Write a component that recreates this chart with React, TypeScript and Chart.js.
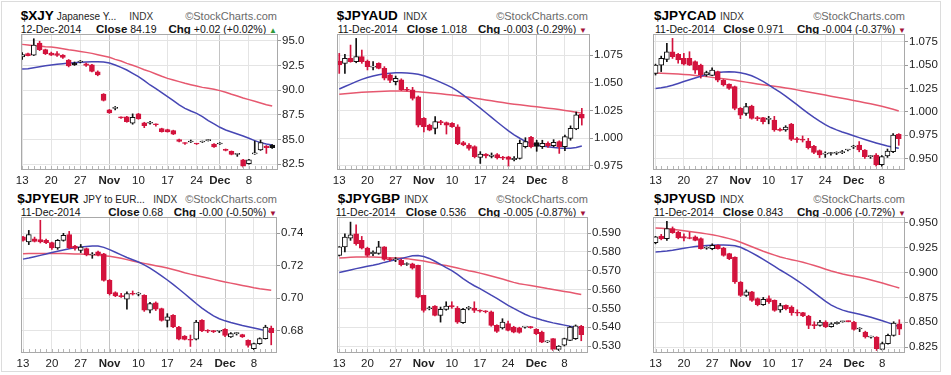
import React, { useEffect, useRef } from "react";
import { Chart, registerables } from "chart.js";

Chart.register(...registerables);

const FONT = '"Liberation Sans", Arial, Helvetica, sans-serif';
Chart.defaults.font.family = FONT;

const RED = "#d3133d";
const INK = "#111111";
const MA_BLUE = "#4646b4";
const MA_RED = "#e6586f";

// ---------- tick labels ----------
const xTickLabels = ["13", "20", "27", "Nov", "10", "17", "24", "Dec", "8"];
const xjyTickIdx = [0, 5, 10, 15, 20, 25, 30, 34, 39];
const jpyTickIdx = [0, 5, 10, 15, 20, 25, 30, 35, 40];

const xjyYTicks = [95.0, 92.5, 90.0, 87.5, 85.0, 82.5];
const audYTicks = [1.075, 1.05, 1.025, 1.0, 0.975];
const cadYTicks = [1.075, 1.05, 1.025, 1.0, 0.975, 0.95];
const eurYTicks = [0.74, 0.72, 0.7, 0.68];
const gbpYTicks = [0.59, 0.58, 0.57, 0.56, 0.55, 0.54, 0.53];
const usdYTicks = [0.95, 0.925, 0.9, 0.875, 0.85, 0.825];

// ---------- $XJY  [open, high, low, close] ----------
const xjyOhlc = [
  [93.35, 93.8, 93.1, 93.6], [93.7, 93.75, 93.45, 93.5], [93.55, 95.2, 93.5, 94.55], [94.75, 94.95, 94.0, 94.1],
  [94.1, 94.15, 93.6, 93.7], [93.75, 93.85, 93.5, 93.55], [93.7, 93.9, 93.4, 93.52], [93.55, 93.6, 93.2, 93.3],
  [93.05, 93.1, 92.35, 92.45], [92.75, 92.85, 92.5, 92.55], [92.85, 93.0, 92.75, 92.9], [92.65, 92.75, 92.4, 92.5],
  [92.55, 92.6, 91.85, 91.9], [91.85, 91.95, 91.45, 91.55], [89.6, 89.65, 88.9, 88.95], [88.0, 88.05, 87.65, 87.7],
  [88.15, 88.35, 88.0, 88.2], [87.25, 87.3, 87.15, 87.2], [87.3, 87.35, 86.75, 86.8], [86.65, 87.6, 86.55, 87.25],
  [87.6, 87.65, 87.05, 87.1], [86.7, 86.75, 86.2, 86.4], [86.65, 86.85, 86.55, 86.7], [86.55, 86.6, 86.35, 86.5],
  [86.1, 86.15, 85.75, 85.8], [86.0, 86.05, 85.75, 85.78], [85.9, 85.95, 85.5, 85.55], [85.0, 85.05, 84.75, 84.8],
  [84.65, 84.7, 84.5, 84.6], [84.75, 84.95, 84.7, 84.85], [84.58, 84.62, 84.5, 84.55], [84.75, 84.85, 84.7, 84.8],
  [84.9, 85.0, 84.85, 84.95], [84.55, 84.6, 84.2, 84.25], [84.55, 84.7, 84.5, 84.6], [83.95, 84.05, 83.85, 83.9],
  [83.8, 83.85, 83.45, 83.5], [83.5, 83.6, 83.3, 83.55], [82.95, 83.0, 82.2, 82.3], [82.55, 83.0, 82.5, 82.95],
  [83.55, 84.85, 83.5, 83.6], [83.95, 84.95, 83.9, 84.7], [84.35, 84.4, 83.6, 84.17], [84.45, 84.5, 84.1, 84.19],
];
const xjyMaBlue = [
  92.14, 92.17, 92.27, 92.37, 92.47, 92.54, 92.61, 92.68, 92.74, 92.78,
  92.81, 92.84, 92.88, 92.88, 92.84, 92.74, 92.54, 92.3, 92.04, 91.7,
  91.36, 90.96, 90.52, 90.15, 89.74, 89.34, 88.94, 88.5, 88.16, 87.89,
  87.65, 87.32, 86.91, 86.58, 86.24, 85.97, 85.77, 85.57, 85.36, 85.13,
  84.89, 84.69, 84.55, 84.45,
];
const xjyMaRed = [
  94.63, 94.56, 94.49, 94.46, 94.39, 94.36, 94.29, 94.19, 94.09, 94.02,
  93.92, 93.82, 93.72, 93.58, 93.45, 93.32, 93.11, 92.94, 92.71, 92.51,
  92.3, 92.07, 91.87, 91.63, 91.4, 91.19, 91.02, 90.86, 90.69, 90.55,
  90.42, 90.28, 90.18, 90.08, 89.95, 89.78, 89.58, 89.41, 89.2, 89.04,
  88.87, 88.7, 88.53, 88.4,
];

// ---------- $JPYAUD ----------
const audOhlc = [
  [1.0696, 1.0765, 1.0584, 1.066], [1.0675, 1.0756, 1.0584, 1.072], [1.072, 1.084, 1.0685, 1.069], [1.069, 1.09, 1.068, 1.0735],
  [1.0735, 1.0795, 1.0675, 1.069], [1.0696, 1.0705, 1.0615, 1.0645], [1.064, 1.069, 1.0615, 1.0648], [1.0675, 1.068, 1.0625, 1.063],
  [1.063, 1.0645, 1.0525, 1.054], [1.057, 1.058, 1.05, 1.052], [1.051, 1.056, 1.048, 1.054], [1.0525, 1.0535, 1.043, 1.0435],
  [1.044, 1.0458, 1.0425, 1.0432], [1.0435, 1.0458, 1.0343, 1.0358], [1.0373, 1.038, 1.01, 1.0117], [1.0178, 1.0185, 1.0055, 1.0102],
  [1.0117, 1.0125, 1.0065, 1.0072], [1.0087, 1.0193, 1.0036, 1.0148], [1.0145, 1.016, 1.012, 1.0139], [1.0139, 1.0145, 1.0036, 1.0117],
  [1.0132, 1.014, 1.0095, 1.0102], [1.0102, 1.012, 0.994, 0.995], [0.9958, 0.997, 0.993, 0.9937], [0.9937, 0.995, 0.989, 0.9907],
  [0.9922, 0.993, 0.982, 0.9831], [0.9825, 0.9877, 0.977, 0.9855], [0.9855, 0.986, 0.982, 0.9838], [0.9834, 0.9865, 0.982, 0.9846],
  [0.985, 0.986, 0.981, 0.982], [0.9822, 0.9835, 0.9805, 0.9818], [0.9831, 0.9835, 0.9741, 0.9807], [0.9804, 0.9833, 0.9793, 0.9816],
  [0.9816, 0.9982, 0.981, 0.9952], [0.9922, 1.0003, 0.991, 0.9967], [1.0006, 1.0015, 0.991, 0.9922], [0.9958, 0.998, 0.988, 0.9925],
  [0.9922, 0.998, 0.9905, 0.9952], [0.9952, 0.9965, 0.9915, 0.993], [0.993, 0.9985, 0.992, 0.996], [0.9967, 0.9975, 0.9861, 0.9922],
  [0.9922, 1.0027, 0.9886, 1.0012], [0.9997, 1.011, 0.998, 1.0087], [1.0083, 1.0235, 1.0075, 1.021], [1.0215, 1.0268, 1.0117, 1.018],
];
const audMaBlue = [
  1.0443, 1.0465, 1.0487, 1.051, 1.053, 1.0547, 1.056, 1.0572, 1.058, 1.0586,
  1.0589, 1.0589, 1.0587, 1.0583, 1.0576, 1.0563, 1.0545, 1.0525, 1.0503, 1.048,
  1.0455, 1.0423, 1.0388, 1.035, 1.031, 1.027, 1.0228, 1.0186, 1.0145, 1.0104,
  1.0064, 1.0028, 0.9998, 0.997, 0.995, 0.9937, 0.9928, 0.9921, 0.9915, 0.991,
  0.9907, 0.9908, 0.9915, 0.9928,
];
const audMaRed = [
  1.0395, 1.04, 1.0405, 1.0409, 1.0413, 1.0416, 1.0419, 1.0421, 1.0423, 1.0424,
  1.0425, 1.0424, 1.0423, 1.0421, 1.0418, 1.0414, 1.041, 1.0405, 1.04, 1.0394,
  1.0388, 1.0382, 1.0375, 1.0368, 1.036, 1.0352, 1.0344, 1.0336, 1.0328, 1.032,
  1.0313, 1.0306, 1.03, 1.0294, 1.0288, 1.0282, 1.0276, 1.027, 1.0264, 1.0257,
  1.0249, 1.0241, 1.0233, 1.0225,
];

// ---------- $JPYCAD ----------
const cadOhlc = [
  [1.041, 1.051, 1.0393, 1.05], [1.05, 1.0596, 1.043, 1.0571], [1.0561, 1.0732, 1.0536, 1.0643], [1.0643, 1.0786, 1.0571, 1.059],
  [1.0614, 1.0625, 1.052, 1.0554], [1.0571, 1.0625, 1.05, 1.051], [1.0571, 1.0643, 1.0495, 1.05], [1.0536, 1.0545, 1.0411, 1.0446],
  [1.05, 1.051, 1.036, 1.0393], [1.0395, 1.0435, 1.038, 1.042], [1.039, 1.047, 1.0385, 1.0446], [1.0429, 1.0435, 1.032, 1.0339],
  [1.0339, 1.0345, 1.0275, 1.0286], [1.0296, 1.03, 1.024, 1.025], [1.0268, 1.0275, 1.002, 1.0036], [1.0036, 1.0045, 0.9925, 0.9964],
  [0.9982, 1.0089, 0.996, 1.0054], [1.0061, 1.007, 0.992, 0.9929], [0.9935, 0.995, 0.9905, 0.9926], [0.9936, 0.994, 0.987, 0.9893],
  [0.9918, 0.995, 0.987, 0.9925], [0.9911, 0.995, 0.979, 0.9804], [0.981, 0.9825, 0.979, 0.98], [0.9804, 0.985, 0.979, 0.9836],
  [0.9868, 0.9875, 0.969, 0.9704], [0.971, 0.9725, 0.967, 0.97], [0.9704, 0.974, 0.9675, 0.9696], [0.9686, 0.9714, 0.96, 0.9614],
  [0.9629, 0.964, 0.955, 0.9564], [0.9582, 0.959, 0.9508, 0.9536], [0.9545, 0.957, 0.951, 0.955], [0.9552, 0.9565, 0.9535, 0.9556],
  [0.9555, 0.957, 0.954, 0.956], [0.9562, 0.9585, 0.955, 0.9568], [0.9589, 0.9595, 0.958, 0.959], [0.9622, 0.964, 0.9605, 0.9625],
  [0.9643, 0.968, 0.957, 0.9589], [0.9589, 0.9595, 0.95, 0.9518], [0.9518, 0.953, 0.95, 0.9521], [0.9536, 0.955, 0.9415, 0.9429],
  [0.9432, 0.953, 0.9415, 0.9518], [0.9525, 0.96, 0.951, 0.9579], [0.9571, 0.9765, 0.956, 0.975], [0.9757, 0.9765, 0.964, 0.971],
];
const cadMaBlue = [
  1.025, 1.0256, 1.0268, 1.0284, 1.0303, 1.0323, 1.0343, 1.0362, 1.038, 1.0398,
  1.0412, 1.0421, 1.0426, 1.0428, 1.0426, 1.0418, 1.0405, 1.0385, 1.0358, 1.0325,
  1.0288, 1.0248, 1.021, 1.0168, 1.0122, 1.0075, 1.0028, 0.9983, 0.994, 0.99,
  0.9862, 0.983, 0.9805, 0.9783, 0.9763, 0.9743, 0.9722, 0.9702, 0.9683, 0.9665,
  0.9648, 0.9632, 0.9618, 0.9607,
];
const cadMaRed = [
  1.0416, 1.0413, 1.041, 1.0407, 1.0403, 1.0399, 1.0395, 1.0389, 1.0383, 1.0376,
  1.0368, 1.036, 1.0352, 1.0344, 1.0336, 1.0327, 1.0317, 1.0307, 1.0298, 1.0289,
  1.028, 1.0272, 1.0264, 1.0255, 1.0245, 1.0234, 1.0223, 1.0212, 1.0201, 1.019,
  1.0178, 1.0166, 1.0155, 1.0144, 1.0133, 1.0121, 1.0109, 1.0097, 1.0085, 1.0072,
  1.0058, 1.0043, 1.0026, 1.0008,
];

// ---------- $JPYEUR ----------
const eurOhlc = [
  [0.7376, 0.738, 0.735, 0.7355], [0.7345, 0.7416, 0.7329, 0.739], [0.7365, 0.7375, 0.7345, 0.7349], [0.7359, 0.7478, 0.7339, 0.7345],
  [0.7355, 0.7362, 0.7335, 0.7341], [0.7341, 0.7345, 0.73, 0.7308], [0.7308, 0.736, 0.73, 0.7355], [0.7355, 0.7398, 0.735, 0.7386],
  [0.739, 0.741, 0.7305, 0.7308], [0.732, 0.7325, 0.7295, 0.7305], [0.7294, 0.733, 0.728, 0.7314], [0.7304, 0.7308, 0.726, 0.7267],
  [0.7265, 0.728, 0.7245, 0.7269], [0.7284, 0.729, 0.726, 0.7267], [0.7273, 0.7275, 0.7105, 0.711], [0.711, 0.7115, 0.702, 0.7029],
  [0.7035, 0.704, 0.701, 0.7014], [0.7014, 0.703, 0.7005, 0.701], [0.6994, 0.7039, 0.6933, 0.7029], [0.7029, 0.7045, 0.702, 0.7025],
  [0.7026, 0.7035, 0.7015, 0.7027], [0.7018, 0.7022, 0.692, 0.6927], [0.6927, 0.6975, 0.691, 0.6967], [0.6973, 0.6978, 0.6925, 0.6933],
  [0.6937, 0.694, 0.686, 0.6865], [0.6865, 0.6906, 0.6824, 0.6886], [0.6896, 0.69, 0.682, 0.6824], [0.6824, 0.6828, 0.6745, 0.6749],
  [0.6769, 0.6772, 0.6745, 0.6748], [0.6748, 0.6775, 0.6705, 0.6743], [0.6749, 0.6865, 0.6745, 0.6855], [0.6865, 0.687, 0.6795, 0.68],
  [0.6802, 0.6808, 0.679, 0.6798], [0.6798, 0.6803, 0.679, 0.6796], [0.6798, 0.6803, 0.679, 0.68], [0.681, 0.6815, 0.6765, 0.6773],
  [0.6763, 0.679, 0.676, 0.6784], [0.6784, 0.679, 0.6775, 0.6786], [0.6778, 0.678, 0.676, 0.6763], [0.6743, 0.6745, 0.67, 0.6712],
  [0.6692, 0.6725, 0.6685, 0.6722], [0.6722, 0.6758, 0.6718, 0.6753], [0.6753, 0.6835, 0.675, 0.6824], [0.6818, 0.683, 0.6715, 0.679],
];
const eurMaBlue = [
  0.724, 0.7247, 0.7255, 0.7263, 0.7271, 0.728, 0.7288, 0.7296, 0.7304, 0.731,
  0.7315, 0.7318, 0.732, 0.732, 0.7312, 0.7298, 0.7282, 0.7266, 0.725, 0.7236,
  0.7222, 0.7205, 0.7185, 0.7162, 0.7138, 0.7112, 0.7085, 0.7057, 0.7028, 0.6998,
  0.6968, 0.694, 0.6915, 0.6892, 0.6875, 0.6862, 0.6852, 0.6843, 0.6834, 0.6826,
  0.6818, 0.681, 0.6802, 0.6795,
];
const eurMaRed = [
  0.7273, 0.7274, 0.7274, 0.7275, 0.7275, 0.7275, 0.7275, 0.7274, 0.7273, 0.7272,
  0.7271, 0.7269, 0.7267, 0.7264, 0.7261, 0.7258, 0.7252, 0.7245, 0.7237, 0.7229,
  0.7221, 0.7214, 0.7207, 0.72, 0.7193, 0.7186, 0.7177, 0.7167, 0.7157, 0.7148,
  0.714, 0.7132, 0.7124, 0.7116, 0.7108, 0.71, 0.7093, 0.7086, 0.7079, 0.7072,
  0.7065, 0.7059, 0.7054, 0.7049,
];

// ---------- $JPYGBP ----------
const gbpOhlc = [
  [0.5781, 0.5828, 0.5778, 0.5826], [0.5826, 0.5896, 0.58, 0.5879], [0.5873, 0.5958, 0.5861, 0.5891], [0.5896, 0.5944, 0.5835, 0.5843],
  [0.5861, 0.5882, 0.5815, 0.582], [0.582, 0.5825, 0.5775, 0.5781], [0.579, 0.5805, 0.578, 0.5798], [0.5791, 0.5856, 0.5787, 0.5826],
  [0.5826, 0.5828, 0.5755, 0.576], [0.5764, 0.5768, 0.5752, 0.5758], [0.5758, 0.577, 0.5748, 0.5762], [0.5755, 0.576, 0.5725, 0.5732],
  [0.5733, 0.5742, 0.5728, 0.5736], [0.5737, 0.574, 0.5708, 0.5714], [0.5728, 0.573, 0.5555, 0.556], [0.5569, 0.557, 0.548, 0.5489],
  [0.5498, 0.551, 0.5492, 0.5502], [0.5512, 0.5515, 0.546, 0.5463], [0.5463, 0.5507, 0.5427, 0.5495], [0.5495, 0.5535, 0.549, 0.5512],
  [0.5515, 0.5535, 0.55, 0.5508], [0.5502, 0.551, 0.542, 0.5427], [0.5424, 0.55, 0.542, 0.5495], [0.55, 0.551, 0.5492, 0.5502],
  [0.5502, 0.5535, 0.5478, 0.5489], [0.5487, 0.5492, 0.548, 0.5485], [0.5484, 0.5488, 0.5476, 0.5482], [0.5481, 0.5486, 0.5405, 0.541],
  [0.541, 0.5413, 0.5372, 0.5378], [0.5396, 0.5445, 0.539, 0.5427], [0.5419, 0.5432, 0.538, 0.5383], [0.5401, 0.5405, 0.537, 0.5374],
  [0.5396, 0.54, 0.5368, 0.5372], [0.54, 0.5405, 0.5395, 0.5401], [0.54, 0.5404, 0.5394, 0.5398], [0.5389, 0.5392, 0.536, 0.5365],
  [0.5374, 0.538, 0.5318, 0.5321], [0.5322, 0.5328, 0.5318, 0.5325], [0.5339, 0.534, 0.5275, 0.5282], [0.5282, 0.5302, 0.5276, 0.53],
  [0.5304, 0.5342, 0.53, 0.5339], [0.533, 0.5404, 0.5328, 0.5401], [0.5339, 0.5412, 0.5335, 0.5407], [0.5405, 0.541, 0.5328, 0.536],
];
const gbpMaBlue = [
  0.569, 0.5697, 0.5704, 0.5711, 0.5717, 0.5723, 0.5729, 0.5736, 0.5744, 0.5751,
  0.5758, 0.5765, 0.5772, 0.5779, 0.5781, 0.5775, 0.5765, 0.575, 0.5733, 0.5716,
  0.57, 0.568, 0.5658, 0.5638, 0.562, 0.5605, 0.5588, 0.557, 0.5553, 0.5535,
  0.5516, 0.55, 0.5484, 0.5469, 0.5456, 0.5447, 0.5438, 0.543, 0.5423, 0.5417,
  0.5411, 0.5405, 0.54, 0.5396,
];
const gbpMaRed = [
  0.5767, 0.5769, 0.5771, 0.5772, 0.5773, 0.5773, 0.5772, 0.5771, 0.577, 0.5769,
  0.5768, 0.5767, 0.5764, 0.576, 0.5756, 0.5751, 0.5745, 0.5739, 0.5732, 0.5727,
  0.5721, 0.5714, 0.5707, 0.57, 0.5694, 0.5687, 0.568, 0.5672, 0.5664, 0.5656,
  0.5647, 0.5638, 0.5631, 0.5626, 0.5621, 0.5616, 0.5611, 0.5605, 0.56, 0.5595,
  0.559, 0.5585, 0.5579, 0.5573,
];

// ---------- $JPYUSD ----------
const usdOhlc = [
  [0.9302, 0.9365, 0.929, 0.9359], [0.9369, 0.9385, 0.933, 0.9342], [0.9342, 0.9517, 0.9325, 0.9443], [0.9443, 0.946, 0.9395, 0.9403],
  [0.9409, 0.9415, 0.934, 0.9349], [0.9362, 0.939, 0.932, 0.9346], [0.935, 0.9405, 0.934, 0.9343], [0.9359, 0.937, 0.932, 0.9325],
  [0.9342, 0.935, 0.9235, 0.9241], [0.9245, 0.926, 0.9235, 0.9248], [0.9241, 0.929, 0.923, 0.9275], [0.9275, 0.928, 0.9235, 0.9241],
  [0.9248, 0.9255, 0.9165, 0.9174], [0.9191, 0.9195, 0.913, 0.914], [0.9157, 0.916, 0.889, 0.8905], [0.8905, 0.891, 0.876, 0.8771],
  [0.8771, 0.8825, 0.876, 0.8805], [0.8805, 0.881, 0.871, 0.872], [0.8737, 0.8745, 0.8665, 0.8677], [0.8677, 0.875, 0.867, 0.873],
  [0.8737, 0.8765, 0.869, 0.8704], [0.872, 0.8725, 0.861, 0.862], [0.8623, 0.869, 0.86, 0.8667], [0.867, 0.8675, 0.8625, 0.8636],
  [0.8653, 0.8665, 0.857, 0.8596], [0.8595, 0.8625, 0.8565, 0.859], [0.8596, 0.86, 0.8555, 0.8563], [0.8563, 0.857, 0.8435, 0.8468],
  [0.847, 0.8505, 0.8435, 0.8465], [0.8468, 0.852, 0.846, 0.8502], [0.8502, 0.8515, 0.8445, 0.8452], [0.8455, 0.8495, 0.845, 0.8485],
  [0.8485, 0.8505, 0.848, 0.85], [0.8505, 0.851, 0.85, 0.8509], [0.8508, 0.8512, 0.8504, 0.8506], [0.8502, 0.851, 0.842, 0.8428],
  [0.8432, 0.8445, 0.8405, 0.8435], [0.8401, 0.841, 0.834, 0.8351], [0.835, 0.836, 0.834, 0.8352], [0.8351, 0.8355, 0.8215, 0.8233],
  [0.8227, 0.83, 0.822, 0.8284], [0.8284, 0.838, 0.828, 0.8368], [0.8368, 0.8505, 0.836, 0.8491], [0.8485, 0.8525, 0.8375, 0.843],
];
const usdMaBlue = [
  0.9208, 0.9212, 0.9218, 0.9226, 0.9236, 0.9245, 0.9254, 0.9262, 0.9268, 0.9272,
  0.9275, 0.9277, 0.9277, 0.9276, 0.927, 0.9255, 0.9228, 0.9198, 0.9167, 0.9133,
  0.9098, 0.9062, 0.9026, 0.8992, 0.8958, 0.892, 0.888, 0.8838, 0.8795, 0.8752,
  0.871, 0.8673, 0.8645, 0.8622, 0.8605, 0.8592, 0.858, 0.8566, 0.855, 0.8532,
  0.8515, 0.8496, 0.8476, 0.8455,
];
const usdMaRed = [
  0.945, 0.9446, 0.9441, 0.9436, 0.943, 0.9422, 0.9414, 0.9406, 0.9398, 0.939,
  0.9381, 0.937, 0.9357, 0.9342, 0.9326, 0.9306, 0.9283, 0.926, 0.9237, 0.9215,
  0.9195, 0.9176, 0.9158, 0.9143, 0.913, 0.9118, 0.9104, 0.9088, 0.9071, 0.9053,
  0.9034, 0.9016, 0.9, 0.8986, 0.8974, 0.8963, 0.8952, 0.894, 0.8926, 0.8911,
  0.8895, 0.8878, 0.8861, 0.8845,
];

// ---------- panel layout ----------
const PANELS: any[] = [
  {
    ohlc: xjyOhlc, blue: xjyMaBlue, red: xjyMaRed, yTicks: xjyYTicks, dec: 1, yMin: 81.92, yMax: 95.68,
    xTicks: xjyTickIdx, xMin: -0.2, xMax: 44.0, plot: [21, 34, 278, 170],
    sym: "$XJY", symX: 20.7, desc: "Japanese Y...", descX: 56.7, indxX: 129.3, scR: 277,
    date: "12-Dec-2014", dateX: 20.7, close: "84.19", closeX: 96, chg: "+0.02 (+0.02%)", chgR: 277, up: true, oy: 0,
  },
  {
    ohlc: audOhlc, blue: audMaBlue, red: audMaRed, yTicks: audYTicks, dec: 3, yMin: 0.9711, yMax: 1.094,
    xTicks: jpyTickIdx, xMin: -0.4, xMax: 44.45, plot: [337, 34, 590, 170],
    sym: "$JPYAUD", symX: 336.7, desc: "", descX: 0, indxX: 403.3, scR: 588,
    date: "11-Dec-2014", dateX: 337.7, close: "1.018", closeX: 406.7, chg: "-0.003 (-0.29%)", chgR: 587, up: false, oy: 0,
  },
  {
    ohlc: cadOhlc, blue: cadMaBlue, red: cadMaRed, yTicks: cadYTicks, dec: 3, yMin: 0.9375, yMax: 1.0833,
    xTicks: jpyTickIdx, xMin: -0.45, xMax: 44.1, plot: [653, 34, 905, 170],
    sym: "$JPYCAD", symX: 654, desc: "", descX: 0, indxX: 720, scR: 905,
    date: "11-Dec-2014", dateX: 655, close: "0.971", closeX: 723.3, chg: "-0.004 (-0.37%)", chgR: 906, up: false, oy: 0,
  },
  {
    ohlc: eurOhlc, blue: eurMaBlue, red: eurMaRed, yTicks: eurYTicks, dec: 2, yMin: 0.6665, yMax: 0.7498,
    xTicks: jpyTickIdx, xMin: -0.35, xMax: 44.0, plot: [21, 217, 277, 353],
    sym: "$JPYEUR", symX: 17.3, desc: "JPY to EUR...", descX: 83.3, indxX: 153.3, scR: 277,
    date: "11-Dec-2014", dateX: 20.7, close: "0.68", closeX: 108.3, chg: "-0.00 (-0.50%)", chgR: 277, up: false, oy: 183,
  },
  {
    ohlc: gbpOhlc, blue: gbpMaBlue, red: gbpMaRed, yTicks: gbpYTicks, dec: 3, yMin: 0.5263, yMax: 0.5985,
    xTicks: jpyTickIdx, xMin: -0.4, xMax: 44.2, plot: [337, 217, 588, 353],
    sym: "$JPYGBP", symX: 337.7, desc: "", descX: 0, indxX: 404.3, scR: 588,
    date: "11-Dec-2014", dateX: 335.7, close: "0.536", closeX: 405.7, chg: "-0.005 (-0.87%)", chgR: 587, up: false, oy: 183,
  },
  {
    ohlc: usdOhlc, blue: usdMaBlue, red: usdMaRed, yTicks: usdYTicks, dec: 3, yMin: 0.819, yMax: 0.956,
    xTicks: jpyTickIdx, xMin: -0.45, xMax: 44.0, plot: [653, 217, 905, 353],
    sym: "$JPYUSD", symX: 654, desc: "", descX: 0, indxX: 720, scR: 905,
    date: "11-Dec-2014", dateX: 654, close: "0.843", closeX: 722.7, chg: "-0.006 (-0.72%)", chgR: 906, up: false, oy: 183,
  },
];

const PAD_L = 10;
const PAD_T = 1;
const Y_W = 36;
const X_H = 18;

function candleStyles(ohlc: number[][]) {
  return ohlc.map((d, i) => {
    const o = d[0];
    const c = d[3];
    const prev = i > 0 ? ohlc[i - 1][3] : o;
    const col = c >= prev ? INK : RED;
    return { col, fill: c > o ? "#ffffff" : col };
  });
}

const framePlugin = {
  id: "frame",
  afterDatasetsDraw(chart: any) {
    const { ctx, chartArea: a, scales } = chart;
    ctx.save();
    ctx.strokeStyle = "#a9a9a9";
    ctx.lineWidth = 1;
    ctx.strokeRect(a.left + 0.5, a.top + 0.5, a.right - a.left - 1, a.bottom - a.top - 1);
    const n = chart.data.datasets[0].data.length;
    ctx.strokeStyle = "#b5b5b5";
    ctx.beginPath();
    for (let i = 0; i < n; i++) {
      const px = Math.round(scales.x.getPixelForValue(i)) + 0.5;
      ctx.moveTo(px, a.bottom - 1);
      ctx.lineTo(px, a.bottom - 4);
    }
    ctx.stroke();
    ctx.restore();
  },
};

function Txt(props: any) {
  const { x, y, s, right, children, style } = props;
  const st: any = {
    position: "absolute",
    top: y - 0.8465 * s,
    fontSize: s,
    lineHeight: `${s}px`,
    whiteSpace: "nowrap",
    ...(style || {}),
  };
  if (right) st.right = 951 - x;
  else st.left = x;
  return <div style={st}>{children}</div>;
}

function Panel({ p }: { p: any }) {
  const ref = useRef<HTMLCanvasElement>(null);
  const [L, T, R, B] = p.plot;
  const cw = R - L + PAD_L + Y_W;
  const ch = B - T + PAD_T + X_H;

  useEffect(() => {
    const st = candleStyles(p.ohlc);
    const chart = new Chart(ref.current as HTMLCanvasElement, {
      type: "bar",
      data: {
        datasets: [
          {
            type: "bar",
            data: p.ohlc.map((d: number[], i: number) => ({ x: i, y: [d[0], d[3]] })),
            backgroundColor: st.map((s) => s.fill),
            borderColor: st.map((s) => s.col),
            borderWidth: 1,
            borderSkipped: false,
            barThickness: 5,
            minBarLength: 1,
            grouped: false,
          },
          {
            type: "bar",
            data: p.ohlc.map((d: number[], i: number) => ({ x: i, y: [d[2], d[1]] })),
            backgroundColor: st.map((s) => s.col),
            borderWidth: 0,
            barThickness: 1,
            minBarLength: 1,
            grouped: false,
          },
          {
            type: "line",
            data: p.blue.map((v: number, i: number) => ({ x: i, y: v })),
            borderColor: MA_BLUE,
            borderWidth: 1.5,
            pointRadius: 0,
            tension: 0,
          },
          {
            type: "line",
            data: p.red.map((v: number, i: number) => ({ x: i, y: v })),
            borderColor: MA_RED,
            borderWidth: 1.5,
            pointRadius: 0,
            tension: 0,
          },
        ],
      } as any,
      options: {
        animation: false,
        responsive: false,
        devicePixelRatio: 1,
        layout: { padding: { left: PAD_L, top: PAD_T, right: 0, bottom: 0 } },
        plugins: { legend: { display: false }, tooltip: { enabled: false }, title: { display: false } },
        scales: {
          x: {
            type: "linear",
            min: p.xMin,
            max: p.xMax,
            offset: false,
            afterBuildTicks: (axis: any) => {
              axis.ticks = p.xTicks.map((v: number) => ({ value: v }));
            },
            afterFit: (axis: any) => {
              axis.height = X_H;
              axis.paddingLeft = 0;
              axis.paddingRight = 0;
            },
            grid: {
              offset: false,
              drawTicks: false,
              color: (ctx: any) => (ctx.index === 3 || ctx.index === 7 ? "#c4c4c4" : "#e4e4e4"),
              lineWidth: 1,
            },
            border: { display: false },
            ticks: {
              autoSkip: false,
              maxRotation: 0,
              padding: 4,
              color: "#222",
              font: (ctx: any) => ({
                family: FONT,
                size: 11.5,
                weight: ctx.index === 3 || ctx.index === 7 ? "bold" : "normal",
              }),
              callback: (_v: any, i: number) => xTickLabels[i],
            },
          },
          y: {
            type: "linear",
            position: "right",
            min: p.yMin,
            max: p.yMax,
            afterBuildTicks: (axis: any) => {
              axis.ticks = p.yTicks.map((v: number) => ({ value: v }));
            },
            afterFit: (axis: any) => {
              axis.width = Y_W;
              axis.paddingTop = 0;
              axis.paddingBottom = 0;
            },
            grid: { color: "#e4e4e4", lineWidth: 1, drawTicks: true, tickLength: 3, tickColor: "#999" },
            border: { display: false },
            ticks: {
              padding: 1,
              color: "#222",
              font: { family: FONT, size: 11.5 },
              callback: (v: any) => Number(v).toFixed(p.dec),
            },
          },
        },
      } as any,
      plugins: [framePlugin],
    });
    return () => chart.destroy();
  }, []);

  const y1 = p.oy + 20;
  const y2 = p.oy + 32.5;
  return (
    <>
      <Txt x={p.symX} y={y1} s={13.5} style={{ fontWeight: "bold", color: "#000" }}>
        {p.sym}
      </Txt>
      {p.desc ? (
        <Txt x={p.descX} y={y1} s={10} style={{ color: "#222" }}>
          {p.desc}
        </Txt>
      ) : null}
      <Txt x={p.indxX} y={y1} s={10} style={{ color: "#333" }}>
        INDX
      </Txt>
      <Txt x={p.scR} y={y1} s={11} right style={{ color: "#6a6a6a" }}>
        ©StockCharts.com
      </Txt>
      <Txt x={p.dateX} y={y2} s={10.5} style={{ color: "#111" }}>
        {p.date}
      </Txt>
      <Txt x={p.closeX} y={y2} s={10.5} style={{ color: "#111" }}>
        <span style={{ fontWeight: "bold", fontSize: 11.5 }}>Close</span> {p.close}
      </Txt>
      <Txt x={p.chgR} y={y2} s={10.5} right style={{ color: "#111" }}>
        <span style={{ fontWeight: "bold", fontSize: 11.5 }}>Chg</span> {p.chg}{" "}
        <span style={{ fontSize: 8, color: p.up ? "#2f9a3a" : "#a3113a" }}>{p.up ? "▲" : "▼"}</span>
      </Txt>
      <canvas
        ref={ref}
        width={cw}
        height={ch}
        style={{ position: "absolute", left: L - PAD_L, top: T - PAD_T, width: cw, height: ch }}
      />
    </>
  );
}

export default function App() {
  return (
    <div
      style={{
        position: "absolute",
        left: 0,
        top: 0,
        width: 951,
        height: 375,
        background: "#ffffff",
        fontFamily: FONT,
        overflow: "hidden",
      }}
    >
      <div
        style={{
          position: "absolute",
          left: 1,
          top: 1,
          width: 938,
          height: 369,
          border: "1px solid #dcdcdc",
        }}
      />
      {PANELS.map((p, i) => (
        <Panel key={i} p={p} />
      ))}
    </div>
  );
}
